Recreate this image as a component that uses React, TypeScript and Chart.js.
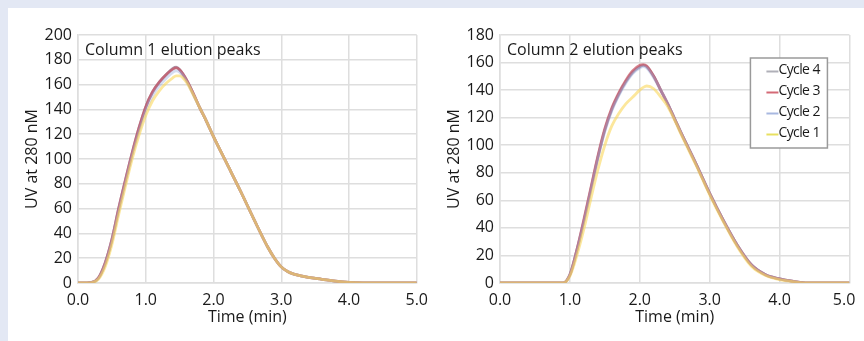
import React, { useEffect, useRef } from "react";
import { Chart, registerables } from "chart.js";

Chart.register(...registerables);

// ---------- data ----------
const cycleLabels = ["Cycle 4", "Cycle 3", "Cycle 2", "Cycle 1"];
const xTicks = [0, 1, 2, 3, 4, 5];

const col1Time = [0, 0.2, 0.3, 0.4, 0.5, 0.6, 0.7, 0.8, 0.9, 1.0, 1.1, 1.2, 1.3, 1.4, 1.45, 1.5, 1.6, 1.7, 1.8, 1.9, 2.0, 2.2, 2.4, 2.6, 2.8, 2.9, 3.0, 3.1, 3.2, 3.4, 3.6, 3.8, 4.0, 4.5, 5.0];
const col1Cycle4 = [0, 0.5, 4, 16, 35, 60, 83, 105, 125, 142, 154, 162, 168, 173, 174, 172, 164, 153, 141, 130, 118, 96, 74, 51, 29, 20, 13, 9, 7, 4.5, 3, 1.5, 0.5, 0, 0];
const col1Cycle3 = [0, 0.5, 4, 16, 35, 60, 83, 105, 125, 142, 154, 162, 168, 172.5, 173.5, 172, 164, 153, 141, 130, 118, 96, 74, 51, 29, 20, 13, 9, 7, 4.5, 3, 1.5, 0.5, 0, 0];
const col1Cycle2 = [0, 0.5, 3.5, 15, 34, 58, 81, 103, 122, 139, 151, 159, 165, 170, 171, 170, 163, 152, 141, 130, 118, 96, 74, 51, 29, 20, 13, 9, 7, 4.5, 3, 1.5, 0.5, 0, 0];
const col1Cycle1 = [0, 0.3, 3, 13, 31, 55, 78, 100, 119, 135, 147, 155, 161, 165.5, 167, 167, 162, 152, 141, 130, 118, 96, 74, 51, 29, 20, 13, 9, 7, 4.5, 3, 1.5, 0.5, 0, 0];

const col2Time = [0, 0.5, 0.9, 1.0, 1.1, 1.2, 1.3, 1.4, 1.5, 1.6, 1.7, 1.8, 1.9, 2.0, 2.05, 2.1, 2.2, 2.3, 2.4, 2.5, 2.6, 2.8, 3.0, 3.2, 3.4, 3.6, 3.8, 4.0, 4.2, 4.4, 5.0];
const col2Cycle4 = [0, 0, 0, 6, 24, 45, 68, 91, 111, 126, 137, 146, 153, 157, 158, 157, 150, 140, 130, 119, 108, 87, 65, 45, 27, 13, 6, 3, 1.2, 0, 0];
const col2Cycle3 = [0, 0, 0, 6, 24, 46, 69, 92, 112, 127, 138, 147, 154, 158, 158.5, 157.5, 150, 140, 130, 119, 108, 87, 65, 45, 27, 13, 6, 3, 1.2, 0, 0];
const col2Cycle2 = [0, 0, 0, 6, 23, 44, 67, 90, 110, 125, 136, 145, 152, 156, 157, 156, 149, 140, 130, 119, 108, 87, 65, 45, 27, 13, 6, 3, 1.2, 0, 0];
const col2Cycle1 = [0, 0, 0, 5, 20, 39, 61, 82, 100, 114, 123, 130, 135, 140, 142, 143, 141, 135, 128, 118, 107, 86, 64, 44, 26, 12, 5.5, 2.5, 1, 0, 0];

// ---------- styling ----------
const FONT = "'Open Sans', 'Noto Sans', sans-serif";
const cycleColors = [
  "rgba(135,115,145,0.7)",
  "rgba(200,80,95,0.7)",
  "rgba(150,170,220,0.4)",
  "rgba(250,215,90,0.6)",
];
const legendColors = ["#b0b0b8", "#d46a76", "#a8b8e0", "#e8e060"];
const GRID = "#dedede";
const TEXT = "#1a1a1a";

type PanelProps = {
  left: number;
  width: number;
  yMax: number;
  yAxisWidth: number;
  padRight: number;
  yTitlePad: number;
  title: string;
  time: number[];
  series: number[][];
  legend: boolean;
  lastPad: boolean;
};

function Panel(p: PanelProps) {
  const ref = useRef<HTMLCanvasElement | null>(null);
  useEffect(() => {
    if (!ref.current) return;
    const datasets = p.series.map((vals, i) => ({
      label: cycleLabels[i],
      data: vals.map((v, k) => ({ x: p.time[k], y: v })),
      borderColor: cycleColors[i],
      backgroundColor: cycleColors[i],
      borderWidth: 2.8,
      pointRadius: 0,
      order: p.series.length - 1 - i,
      cubicInterpolationMode: "monotone" as const,
      fill: false,
    }));

    const overlay = {
      id: "overlay",
      afterDraw(chart: any) {
        const { ctx, chartArea } = chart;
        ctx.save();
        ctx.fillStyle = TEXT;
        ctx.font = `16px ${FONT}`;
        ctx.textBaseline = "middle";
        ctx.textAlign = "left";
        ctx.fillText(p.title, chartArea.left + 7, chartArea.top + 15);
        if (p.legend) {
          const bw = 77, bh = 90;
          const bx = chartArea.right - 22 - bw;
          const by = chartArea.top + 23;
          ctx.fillStyle = "#ffffff";
          ctx.fillRect(bx, by, bw, bh);
          ctx.strokeStyle = "#9a9a9a";
          ctx.lineWidth = 1.5;
          ctx.strokeRect(bx, by, bw, bh);
          ctx.font = `14px ${FONT}`;
          (ctx as any).letterSpacing = "-0.6px";
          chart.data.datasets.forEach((ds: any, i: number) => {
            const cy = by + 12.5 + i * 21;
            ctx.strokeStyle = legendColors[i];
            ctx.lineWidth = 2;
            ctx.beginPath();
            ctx.moveTo(bx + 16, cy + 1);
            ctx.lineTo(bx + 28, cy + 1);
            ctx.stroke();
            ctx.fillStyle = TEXT;
            ctx.fillText(ds.label, bx + 28, cy);
          });
        }
        ctx.restore();
      },
    };

    const chart = new Chart(ref.current, {
      type: "line",
      data: { datasets },
      options: {
        animation: false,
        responsive: false,
        maintainAspectRatio: false,
        layout: { padding: { top: 27, right: p.padRight, left: 0, bottom: 0 } },
        plugins: { legend: { display: false }, tooltip: { enabled: false } },
        scales: {
          x: {
            type: "linear",
            min: 0,
            max: 5,
            afterBuildTicks(scale: any) {
              scale.ticks = xTicks.map((v) => ({ value: v }));
            },
            afterFit(scale: any) {
              scale.height = 58;
            },
            ticks: {
              color: TEXT,
              font: { family: FONT, size: 16 },
              padding: 8,
              maxRotation: 0,
              callback: (v: any) => {
                const s = Number(v).toFixed(1);
                return p.lastPad && Number(v) === 5 ? s + "\u2002\u2009" : s;
              },
            },
            grid: { color: GRID, lineWidth: 1.5, drawTicks: false },
            border: { color: GRID, width: 1.5 },
            title: {
              display: true,
              text: "Time (min)",
              color: TEXT,
              font: { family: FONT, size: 16 },
              padding: { top: 0, bottom: 14 },
            },
          },
          y: {
            min: 0,
            max: p.yMax,
            afterFit(scale: any) {
              scale.width = p.yAxisWidth;
            },
            ticks: {
              stepSize: 20,
              color: TEXT,
              font: { family: FONT, size: 16 },
              padding: 6,
            },
            grid: { color: GRID, lineWidth: 1.5, drawTicks: false },
            border: { color: GRID, width: 1.5 },
            title: {
              display: true,
              text: "UV at 280 nM",
              color: TEXT,
              font: { family: FONT, size: 16 },
              padding: { top: p.yTitlePad, bottom: 0 },
            },
          },
        },
      },
      plugins: [overlay],
    });
    return () => chart.destroy();
  }, []);
  return (
    <canvas
      ref={ref}
      width={p.width}
      height={333}
      style={{ position: "absolute", left: p.left, top: 8, width: p.width, height: 333 }}
    />
  );
}

export default function App() {
  return (
    <div
      style={{
        position: "fixed",
        inset: 0,
        background: "#e3e8f4",
        overflow: "hidden",
      }}
    >
      <div style={{ position: "absolute", left: 8, top: 8, right: 0, bottom: 0, background: "#ffffff" }} />
      <Panel
        left={8}
        width={428}
        yMax={200}
        yAxisWidth={70}
        padRight={12}
        yTitlePad={15}
        title="Column 1 elution peaks"
        time={col1Time}
        series={[col1Cycle4, col1Cycle3, col1Cycle2, col1Cycle1]}
        legend={false}
        lastPad={false}
      />
      <Panel
        left={432}
        width={442}
        yMax={180}
        yAxisWidth={68}
        padRight={20}
        yTitlePad={13}
        title="Column 2 elution peaks"
        time={col2Time}
        series={[col2Cycle4, col2Cycle3, col2Cycle2, col2Cycle1]}
        legend={true}
        lastPad={true}
      />
    </div>
  );
}
